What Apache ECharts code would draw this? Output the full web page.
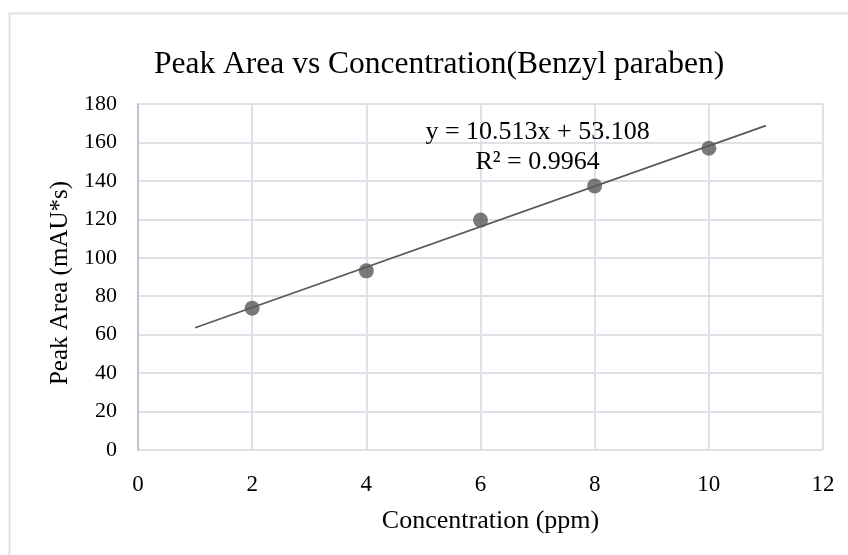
<!DOCTYPE html>
<html>
<head>
<meta charset="utf-8">
<script src="https://cdn.jsdelivr.net/npm/echarts@6/dist/echarts.min.js"></script>
<style>
html, body { margin: 0; padding: 0; background: #fff; }
#main { width: 848px; height: 555px; }
</style>
</head>
<body>
<div id="main"></div>
<script>
// 数据 (读自图片)
var concentration = [2, 4, 6, 8, 10];
var peakArea = [73.8, 93.2, 119.6, 137.4, 157.0];
var trendX = [1, 11];
var trendY = [63.6, 168.75];
var eqText = ['y = 10.513x + 53.108', 'R\u00b2 = 0.9964'];

var serif = '"Liberation Serif", "DejaVu Serif", serif';
var chart = echarts.init(document.getElementById('main'));

var option = {
	backgroundColor: '#fff',
	animation: false,
	title: {
		text: 'Peak Area vs Concentration(Benzyl paraben)',
		left: 149,
		top: 44,
		textStyle: { fontFamily: serif, fontSize: 31.5, fontWeight: 'normal', color: '#000' }
	},
	graphic: [{
		type: 'rect',
		shape: { x: 9.5, y: 13.5, width: 850, height: 560 },
		style: { fill: 'none', stroke: '#dde1e6', lineWidth: 2 },
		silent: true
	}],
	grid: { left: 138, right: 25, top: 104, bottom: 105 },
	xAxis: {
		type: 'value', min: 0, max: 12, interval: 2,
		name: 'Concentration (ppm)', nameLocation: 'middle', nameGap: 58,
		nameTextStyle: { fontFamily: serif, fontSize: 26, color: '#000', padding: [0, 0, 0, 20] },
		axisLine: { show: false },
		axisTick: { show: false },
		axisLabel: { fontFamily: serif, fontSize: 23, color: '#000', margin: 23 },
		splitLine: { show: true, lineStyle: { color: '#dde1e8', width: 2 } }
	},
	yAxis: {
		type: 'value', min: 0, max: 180, interval: 20,
		name: 'Peak Area (mAU*s)', nameLocation: 'middle', nameGap: 56,
		nameTextStyle: { fontFamily: serif, fontSize: 25, color: '#000', padding: [0, 12, 0, 0] },
		axisLine: { show: true, lineStyle: { color: '#b8c3d2', width: 2 } },
		axisTick: { show: false },
		axisLabel: { fontFamily: serif, fontSize: 22, color: '#000', margin: 21 },
		splitLine: { show: true, lineStyle: { color: '#dde1e8', width: 2 } }
	},
	series: [{
		type: 'line',
		data: trendX.map(function (x, i) { return [x, trendY[i]]; }),
		symbol: 'none',
		lineStyle: { color: '#595959', width: 1.8 },
		z: 2
	}, {
		type: 'scatter',
		data: concentration.map(function (x, i) { return [x, peakArea[i]]; }),
		symbolSize: 15,
		itemStyle: { color: '#595959' },
		z: 3
	}, {
		type: 'scatter',
		data: [],
		markPoint: {
			symbol: 'rect', symbolSize: 0,
			label: {
				show: true, position: 'inside',
				fontFamily: serif, fontSize: 26, color: '#000', lineHeight: 30, align: 'center',
				formatter: eqText.join('\n')
			},
			data: [{ coord: [7, 157.5] }]
		}
	}]
};
chart.setOption(option);
</script>
</body>
</html>
